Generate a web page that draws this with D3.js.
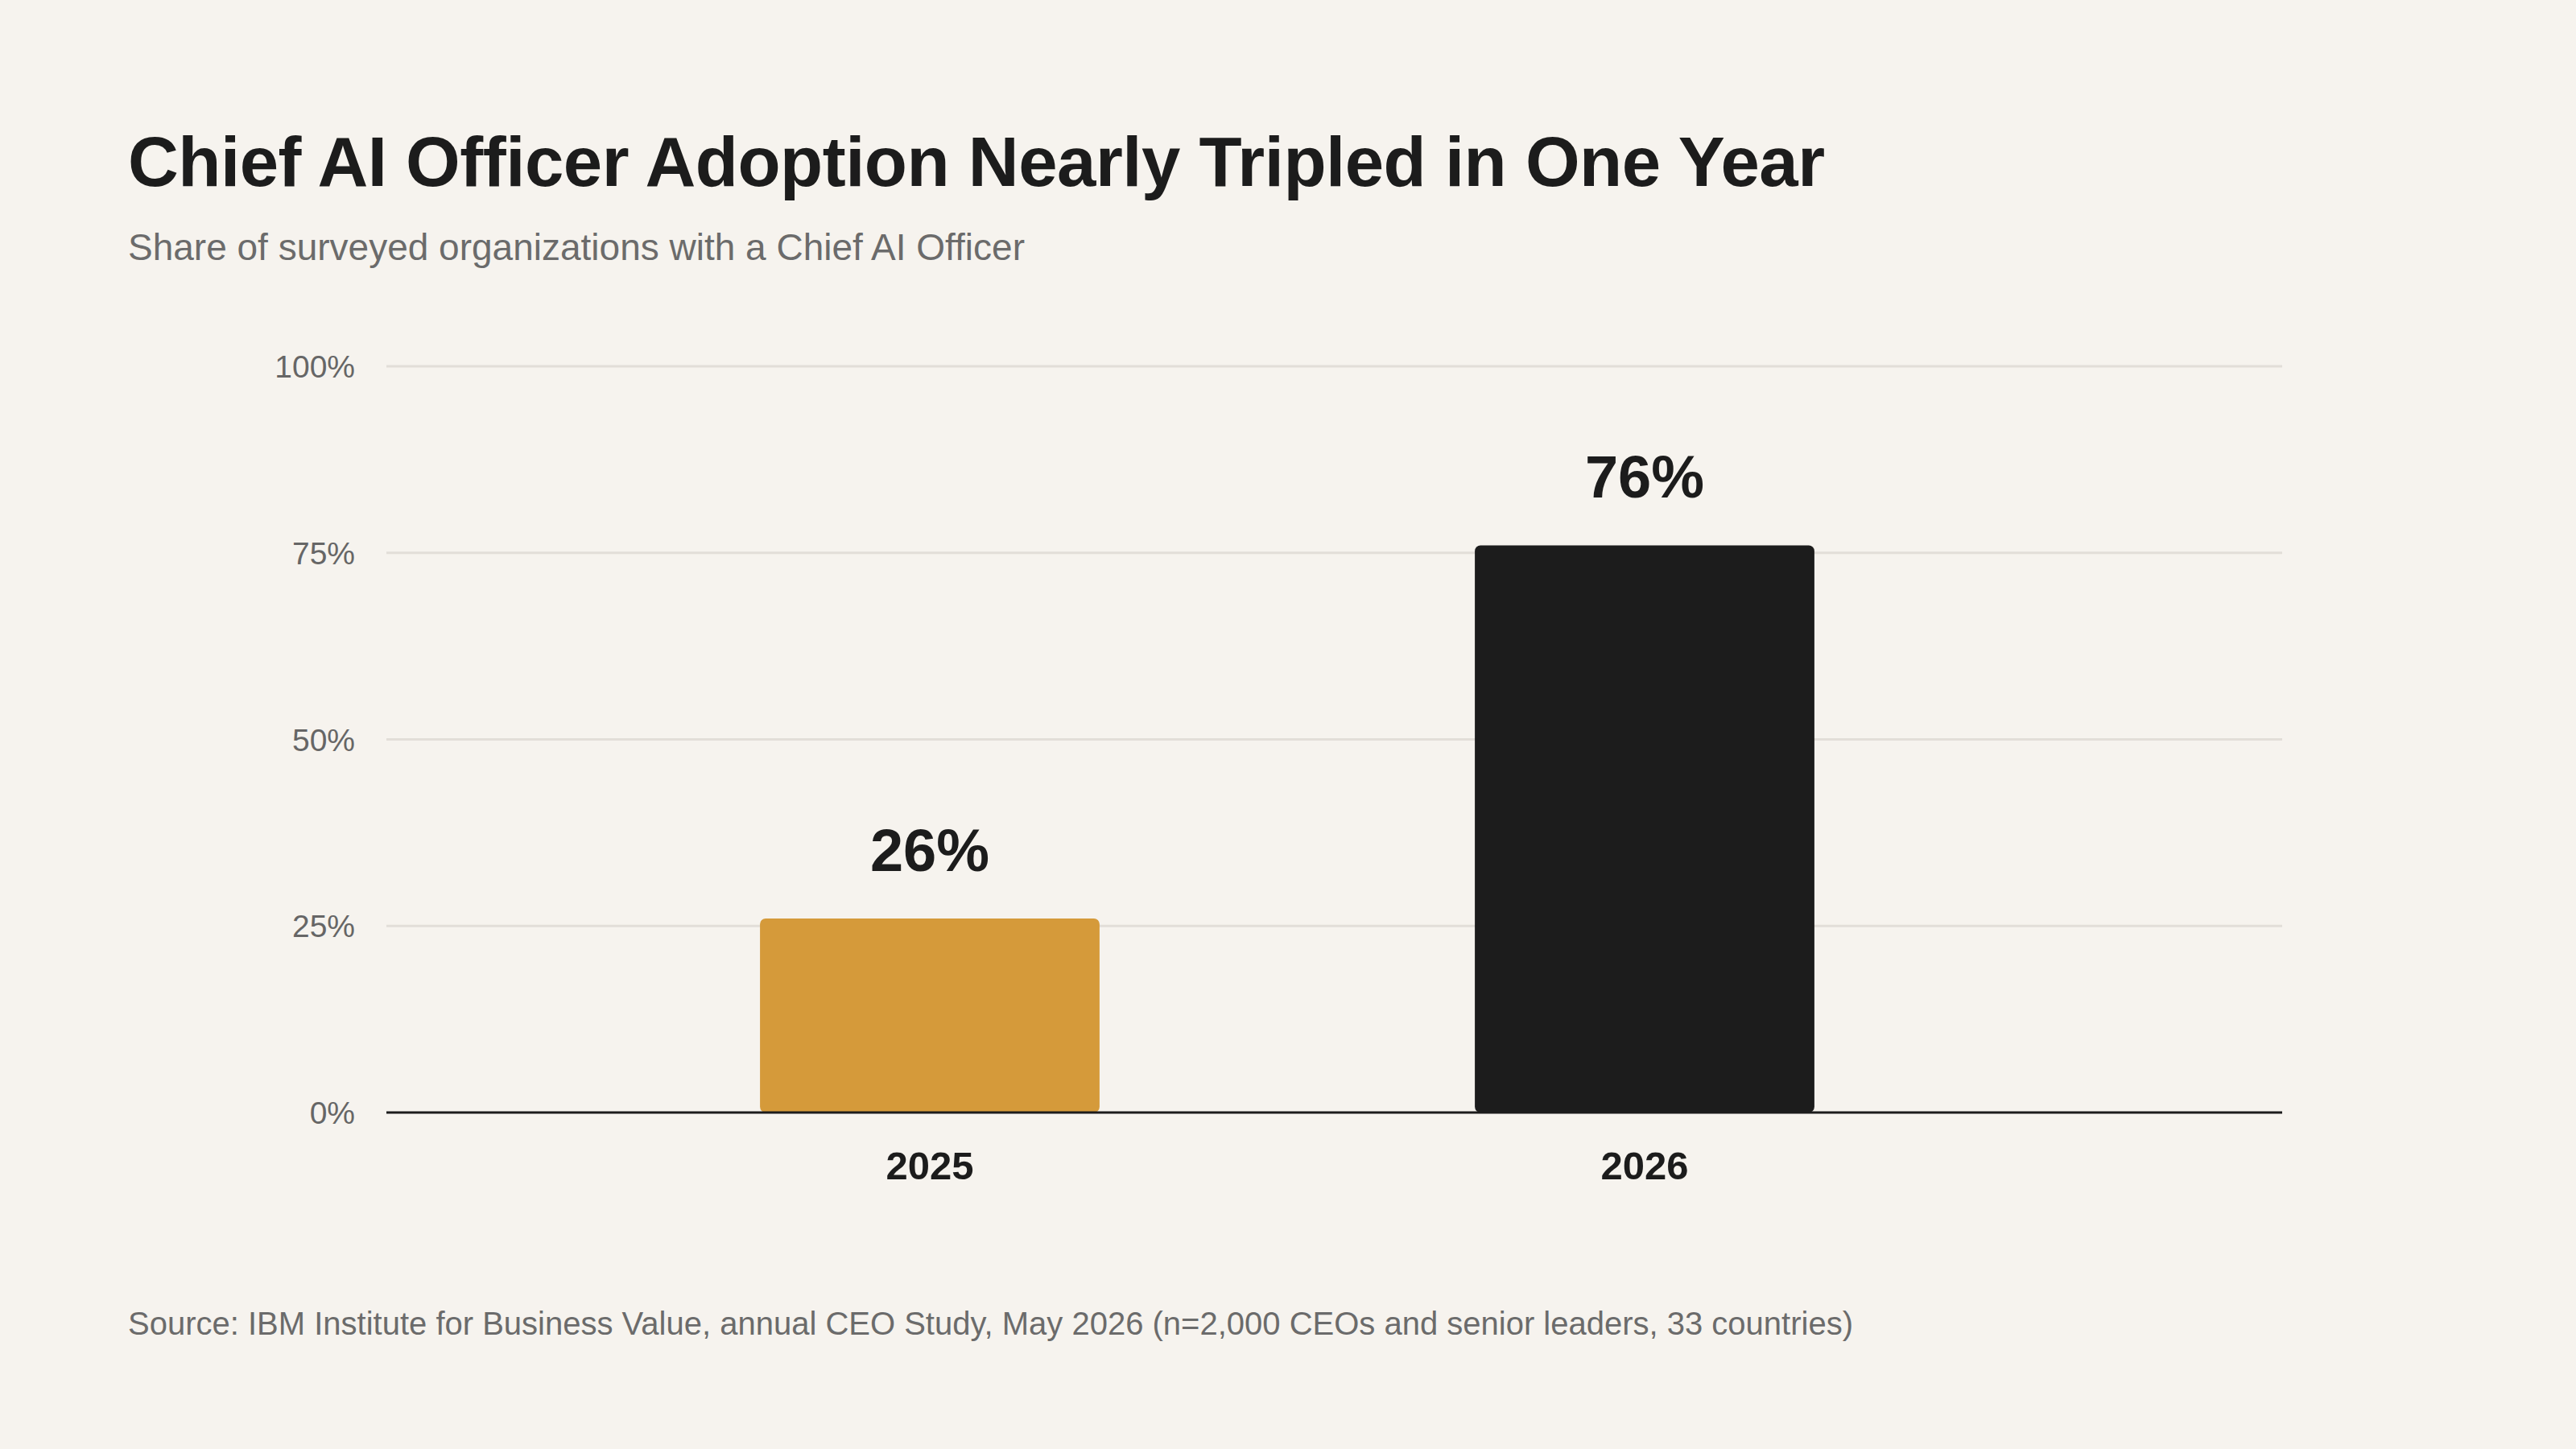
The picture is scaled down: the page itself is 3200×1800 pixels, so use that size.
<!DOCTYPE html>
<html><head><meta charset="utf-8">
<script src="https://cdn.jsdelivr.net/npm/d3@7"></script>
<style>
body{margin:0;background:#f6f3ee;}
svg{font-family:"Liberation Sans",Arial,sans-serif;display:block;}
</style></head><body>
<script>
var years = ['2025', '2026'];
var shares = [26, 76];
var colors = ['#d59a3a', '#1c1c1c'];
var ticks = [0, 25, 50, 75, 100];

var width = 3200, height = 1800;
var plotLeft = 480, plotRight = 2835, plotTop = 455, plotBottom = 1382;

var svg = d3.select('body').append('svg')
  .attr('width', width).attr('height', height);
svg.append('rect').attr('width', width).attr('height', height).attr('fill', '#f6f3ee');

var x = d3.scaleBand().domain(years).range([711, 2487])
  .paddingInner(0.525).paddingOuter(0.2625);
var y = d3.scaleLinear().domain([0, 100]).range([plotBottom, plotTop]);

// grid
svg.selectAll('.grid').data(ticks.slice(1)).enter().append('line')
  .attr('x1', plotLeft).attr('x2', plotRight)
  .attr('y1', function(d){ return y(d); }).attr('y2', function(d){ return y(d); })
  .attr('stroke', '#e2ded8').attr('stroke-width', 3);

svg.selectAll('.tick').data(ticks).enter().append('text')
  .attr('x', 441).attr('y', function(d){ return y(d); })
  .attr('dy', '0.36em').attr('text-anchor', 'end')
  .attr('font-size', 39).attr('fill', '#666')
  .text(function(d){ return d + '%'; });

svg.selectAll('.bar').data(years).enter().append('rect')
  .attr('x', function(d){ return x(d); })
  .attr('width', x.bandwidth())
  .attr('y', function(d, i){ return y(shares[i]); })
  .attr('height', function(d, i){ return plotBottom - y(shares[i]); })
  .attr('rx', 7)
  .attr('fill', function(d, i){ return colors[i]; });

svg.append('line').attr('x1', plotLeft).attr('x2', plotRight)
  .attr('y1', plotBottom).attr('y2', plotBottom)
  .attr('stroke', '#1c1c1c').attr('stroke-width', 3);

svg.selectAll('.val').data(years).enter().append('text')
  .attr('x', function(d){ return x(d) + x.bandwidth() / 2; })
  .attr('y', function(d, i){ return y(shares[i]) - 59; })
  .attr('text-anchor', 'middle').attr('font-size', 74).attr('font-weight', 'bold')
  .attr('fill', '#1c1c1c')
  .text(function(d, i){ return shares[i] + '%'; });

svg.selectAll('.cat').data(years).enter().append('text')
  .attr('x', function(d){ return x(d) + x.bandwidth() / 2; })
  .attr('y', 1465)
  .attr('text-anchor', 'middle').attr('font-size', 49).attr('font-weight', 'bold')
  .attr('fill', '#1c1c1c')
  .text(function(d){ return d; });

svg.append('text').attr('x', 159).attr('y', 231)
  .attr('font-size', 87).attr('font-weight', 'bold').attr('fill', '#1c1c1c')
  .attr('letter-spacing', -0.5)
  .text('Chief AI Officer Adoption Nearly Tripled in One Year');
svg.append('text').attr('x', 159).attr('y', 323)
  .attr('font-size', 46).attr('fill', '#6b6b6b')
  .text('Share of surveyed organizations with a Chief AI Officer');
svg.append('text').attr('x', 159).attr('y', 1658)
  .attr('font-size', 40).attr('fill', '#6b6b6b')
  .text('Source: IBM Institute for Business Value, annual CEO Study, May 2026 (n=2,000 CEOs and senior leaders, 33 countries)');
</script>
</body></html>
